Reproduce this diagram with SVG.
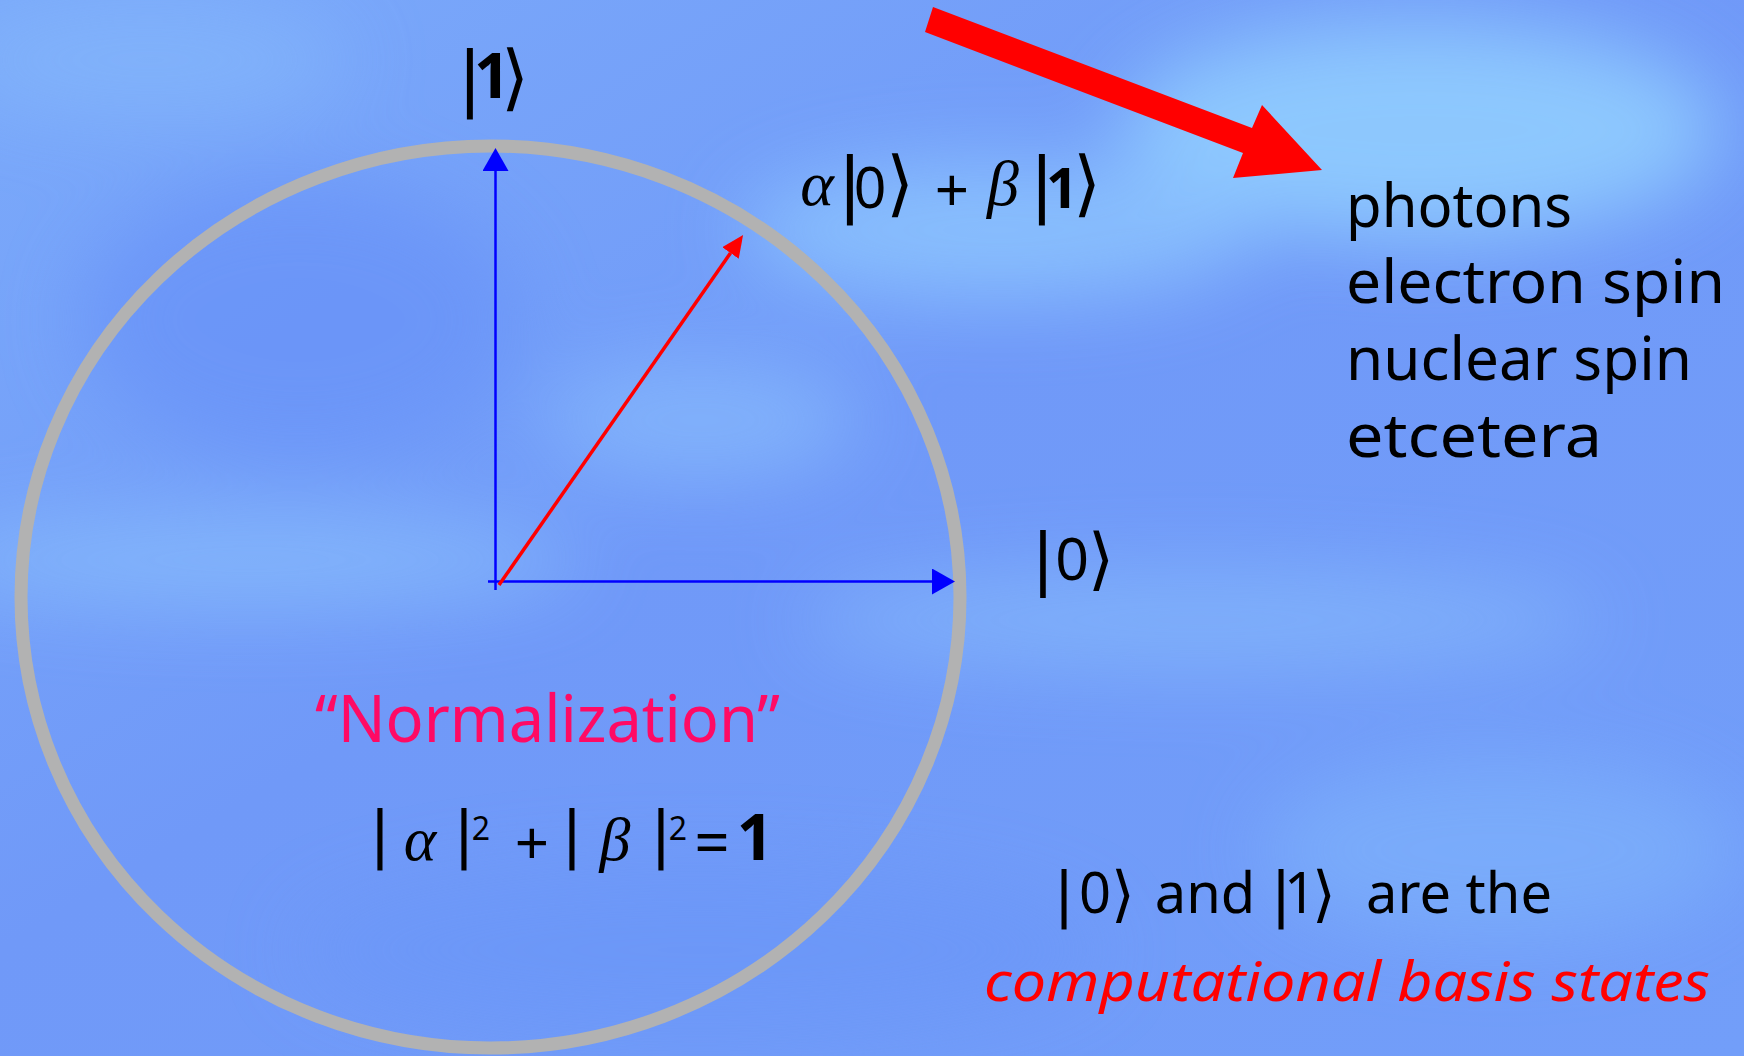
<svg xmlns="http://www.w3.org/2000/svg" width="1744" height="1056" viewBox="0 0 1744 1056">
  <defs>
    <linearGradient id="bg" x1="0" y1="0" x2="1" y2="1">
      <stop offset="0" stop-color="#7BAAFA"/>
      <stop offset="0.45" stop-color="#7099F8"/>
      <stop offset="1" stop-color="#729EF9"/>
    </linearGradient>
    <filter id="soft" x="-50%" y="-50%" width="200%" height="200%">
      <feGaussianBlur stdDeviation="40"/>
    </filter>
    <marker id="blueHead" viewBox="0 0 23 26" refX="0" refY="13" markerWidth="23" markerHeight="26" markerUnits="userSpaceOnUse" orient="auto">
      <path d="M0,0 L23,13 L0,26 Z" fill="#0000FF"/>
    </marker>
    <marker id="redHead" viewBox="0 0 22 20" refX="0" refY="10" markerWidth="22" markerHeight="20" markerUnits="userSpaceOnUse" orient="auto">
      <path d="M0,0 L22,10 L0,20 Z" fill="#FF0000"/>
    </marker>
    <style>
      text { fill: #000; }
      .sans { font-family: "Noto Sans", "DejaVu Sans", sans-serif; }
      .bold { font-weight: bold; }
      .brk { font-family: "DejaVu Sans", sans-serif; font-weight: normal; font-style: normal; }
      .greek { font-family: "Liberation Serif", "DejaVu Serif", serif; font-style: italic; }
      .dig { font-family: "Noto Sans", "DejaVu Sans", sans-serif; font-style: normal; }
      .mid { text-anchor: middle; }
      .axis { stroke: #0000FF; stroke-width: 2.5; fill: none; }
    </style>
  </defs>

  <g id="background">
    <rect x="0" y="0" width="1744" height="1056" fill="url(#bg)"/>
    <g filter="url(#soft)" opacity="0.85">
      <ellipse cx="1420" cy="130" rx="300" ry="110" fill="#93D0FF"/>
      <ellipse cx="1000" cy="230" rx="260" ry="70" fill="#8CC4FE"/>
      <ellipse cx="250" cy="560" rx="330" ry="45" fill="#86BAFC"/>
      <ellipse cx="1200" cy="620" rx="400" ry="50" fill="#82B4FB"/>
      <ellipse cx="700" cy="420" rx="160" ry="60" fill="#84B6FC"/>
      <ellipse cx="300" cy="320" rx="220" ry="140" fill="#6A94F8"/>
      <ellipse cx="700" cy="950" rx="400" ry="80" fill="#6C97F8"/>
      <ellipse cx="1500" cy="850" rx="240" ry="90" fill="#7CAEFB"/>
      <ellipse cx="150" cy="60" rx="200" ry="60" fill="#82B4FB"/>
    </g>
  </g>

  <g id="circle">
    <ellipse cx="490.5" cy="597" rx="469.5" ry="451" fill="none" stroke="#B2B2B2" stroke-width="13"/>
  </g>

  <g id="connectors">
    <path class="axis" d="M488,581.5 H932" marker-end="url(#blueHead)"/>
    <path class="axis" d="M495.5,590 V171" marker-end="url(#blueHead)"/>
    <path d="M499,585 L730.5,253" stroke="#FF0000" stroke-width="3.5" fill="none" marker-end="url(#redHead)"/>
    <polygon id="big-arrow" points="933,7 1252,128 1262,105 1322,170 1233,178 1243,153 925,32" fill="#FF0000"/>
  </g>

  <g id="ket-one">
    <text class="mid"><tspan class="brk" x="470" y="102" font-size="72">|</tspan><tspan class="dig bold" x="492" y="98" font-size="63">1</tspan><tspan class="brk" x="515" y="102" font-size="72">⟩</tspan></text>
  </g>

  <g id="superposition">
    <text class="mid"><tspan class="greek" x="817" y="205" font-size="64">α</tspan><tspan class="brk" x="850" y="208" font-size="72">|</tspan><tspan class="dig" x="870" y="208" font-size="57">0</tspan><tspan class="brk" x="900" y="208" font-size="72">⟩</tspan><tspan class="dig" x="952" y="212" font-size="60">+</tspan><tspan class="greek" x="1003" y="205" font-size="64">β</tspan><tspan class="brk" x="1042" y="208" font-size="72">|</tspan><tspan class="dig bold" x="1062" y="208" font-size="56">1</tspan><tspan class="brk" x="1087" y="208" font-size="72">⟩</tspan></text>
  </g>

  <g id="ket-zero">
    <text class="mid"><tspan class="brk" x="1043" y="582" font-size="68">|</tspan><tspan class="dig" x="1072" y="580" font-size="59">0</tspan><tspan class="brk" x="1101" y="582" font-size="68">⟩</tspan></text>
  </g>

  <g id="normalization">
    <text x="315" y="742" font-size="66" class="sans" style="fill:#FF0A64" textLength="465" lengthAdjust="spacingAndGlyphs">“Normalization”</text>
    <text class="mid"><tspan class="brk" x="380" y="855" font-size="62">|</tspan><tspan class="greek" x="420" y="860" font-size="62">α</tspan><tspan class="brk" x="464" y="855" font-size="62">|</tspan><tspan class="dig" x="481" y="840" font-size="32">2</tspan><tspan class="dig" x="532" y="865" font-size="60">+</tspan><tspan class="brk" x="572" y="855" font-size="62">|</tspan><tspan class="greek" x="615" y="860" font-size="62">β</tspan><tspan class="brk" x="661" y="855" font-size="62">|</tspan><tspan class="dig" x="678" y="840" font-size="32">2</tspan><tspan class="dig" x="712" y="865" font-size="62">=</tspan><tspan class="dig bold" x="755" y="860" font-size="64">1</tspan></text>
  </g>

  <g id="systems">
    <text class="sans" x="1346" y="227" font-size="60" textLength="226" lengthAdjust="spacingAndGlyphs">photons</text>
    <text class="sans" x="1346" y="303" font-size="60" textLength="379" lengthAdjust="spacingAndGlyphs">electron spin</text>
    <text class="sans" x="1346" y="380" font-size="60" textLength="346" lengthAdjust="spacingAndGlyphs">nuclear spin</text>
    <text class="sans" x="1346" y="457" font-size="60" textLength="256" lengthAdjust="spacingAndGlyphs">etcetera</text>
  </g>

  <g id="basis-note">
    <text class="mid"><tspan class="brk" x="1064" y="915" font-size="61">|</tspan><tspan class="dig" x="1095" y="913" font-size="56">0</tspan><tspan class="brk" x="1123" y="915" font-size="61">⟩</tspan><tspan class="sans" x="1205" y="913" font-size="56">and</tspan><tspan class="brk" x="1281" y="915" font-size="61">|</tspan><tspan class="dig" x="1300" y="913" font-size="56">1</tspan><tspan class="brk" x="1324" y="915" font-size="61">⟩</tspan><tspan class="sans" x="1459" y="913" font-size="56">are the</tspan></text>
    <text x="984" y="1001" font-size="54" font-style="italic" class="sans" style="fill:#FF0000" textLength="726" lengthAdjust="spacingAndGlyphs">computational basis states</text>
  </g>
</svg>
